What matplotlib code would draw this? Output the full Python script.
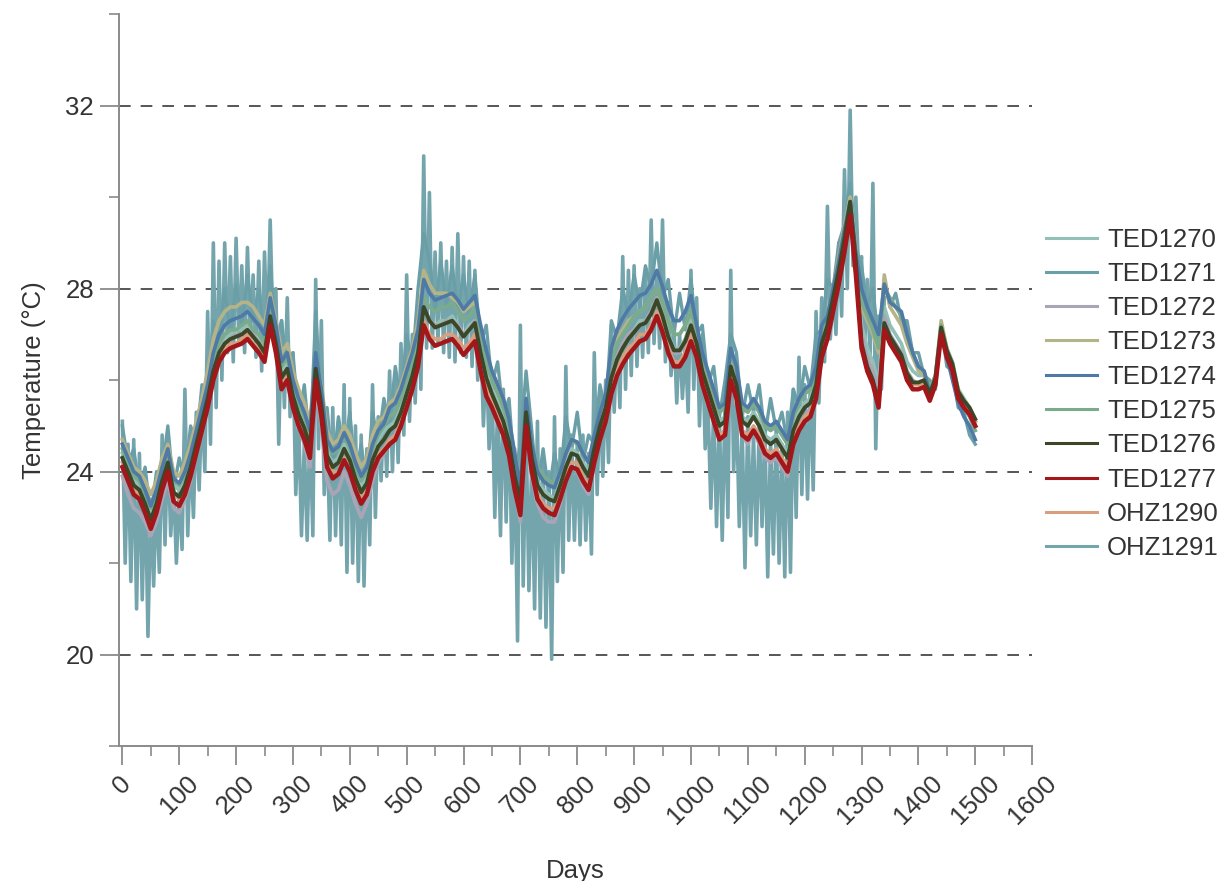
import numpy as np
import matplotlib
matplotlib.use("Agg")
import matplotlib.pyplot as plt
from matplotlib.ticker import MultipleLocator

plt.rcParams['font.family'] = ['Liberation Sans', 'DejaVu Sans']

# common day grid for the smoothed loggers (every 10 days)
days = np.arange(0, 1510, 10)

ted1277 = [24.1, 23.8, 23.5, 23.4, 23.1, 22.75, 23.1, 23.6, 24.0, 23.35,
           23.25, 23.5, 23.9, 24.4, 24.9, 25.4, 26.0, 26.4, 26.6, 26.7,
           26.75, 26.8, 26.9, 26.75, 26.6, 26.4, 27.2, 26.6, 25.8, 26.0,
           25.4, 25.0, 24.7, 24.3, 26.0, 25.2, 24.1, 23.85, 23.95, 24.25,
           24.0, 23.6, 23.3, 23.5, 24.0, 24.3, 24.45, 24.6, 24.7, 25.0,
           25.4, 25.8, 26.3, 27.2, 26.9, 26.75, 26.8, 26.85, 26.9, 26.75,
           26.55, 26.7, 26.85, 26.2, 25.65, 25.4, 25.1, 24.8, 24.35, 23.6,
           23.05, 25.0, 24.0, 23.4, 23.2, 23.1, 23.05, 23.4, 23.8, 24.1,
           24.05, 23.8, 23.6, 24.2, 24.7, 25.1, 25.7, 26.1, 26.35, 26.55,
           26.7, 26.85, 26.9, 27.1, 27.4, 27.05, 26.6, 26.3, 26.3, 26.5,
           26.85, 26.5, 25.9, 25.5, 25.1, 24.7, 24.8, 26.0, 25.6, 24.8,
           24.7, 24.9, 24.7, 24.4, 24.3, 24.4, 24.2, 24.0, 24.6, 24.9,
           25.1, 25.2, 25.6, 26.5, 26.9, 27.5, 28.1, 28.8, 29.6, 28.3,
           26.7, 26.2, 25.9, 25.4, 27.1, 26.8, 26.6, 26.4, 26.0, 25.8,
           25.8, 25.85, 25.55, 25.9, 27.0, 26.5, 26.2, 25.6, 25.4, 25.25,
           25.0]

ted1276 = [24.3, 24.0, 23.7, 23.6, 23.3, 22.95, 23.3, 23.8, 24.2, 23.55,
           23.45, 23.7, 24.1, 24.6, 25.1, 25.6, 26.2, 26.6, 26.8, 26.9,
           26.95, 27.0, 27.1, 26.95, 26.8, 26.6, 27.4, 26.8, 26.05, 26.25,
           25.65, 25.25, 24.95, 24.55, 26.25, 25.45, 24.35, 24.1, 24.2, 24.5,
           24.25, 23.85, 23.55, 23.75, 24.25, 24.55, 24.7, 24.9, 25.0, 25.3,
           25.7, 26.1, 26.6, 27.6, 27.3, 27.15, 27.2, 27.25, 27.3, 27.15,
           26.95, 27.1, 27.25, 26.6, 26.05, 25.7, 25.4, 25.1, 24.65, 23.9,
           23.35, 25.3, 24.3, 23.7, 23.5, 23.4, 23.35, 23.7, 24.1, 24.4,
           24.35, 24.1, 23.9, 24.5, 25.0, 25.4, 26.05, 26.45, 26.7, 26.9,
           27.05, 27.2, 27.25, 27.45, 27.75, 27.4, 26.95, 26.65, 26.65, 26.85,
           27.2, 26.8, 26.2, 25.8, 25.4, 25.0, 25.1, 26.3, 25.9, 25.1,
           25.0, 25.2, 25.0, 24.7, 24.6, 24.7, 24.5, 24.3, 24.9, 25.2,
           25.4, 25.5, 25.9, 26.8, 27.2, 27.8, 28.4, 29.1, 29.9, 28.6,
           26.8, 26.3, 26.0, 25.5, 27.25, 26.95, 26.75, 26.55, 26.15, 25.95,
           25.95, 26.0, 25.7, 26.05, 27.15, 26.65, 26.35, 25.75, 25.55, 25.4,
           25.15]

ted1274 = [24.6, 24.3, 24.0, 23.9, 23.6, 23.25, 23.6, 24.1, 24.5, 23.85,
           23.75, 24.0, 24.4, 24.9, 25.4, 25.9, 26.6, 27.0, 27.2, 27.3,
           27.35, 27.4, 27.5, 27.35, 27.2, 27.0, 27.8, 27.2, 26.4, 26.6,
           26.0, 25.6, 25.3, 24.9, 26.6, 25.8, 24.7, 24.45, 24.55, 24.85,
           24.6, 24.2, 23.9, 24.1, 24.6, 24.9, 25.05, 25.4, 25.5, 25.8,
           26.2, 26.6, 27.1, 28.2, 27.9, 27.75, 27.8, 27.85, 27.9, 27.75,
           27.55, 27.7, 27.85, 27.2, 26.65, 26.2, 25.9, 25.6, 25.15, 24.4,
           23.65, 25.6, 24.6, 24.0, 23.8, 23.7, 23.65, 24.0, 24.4, 24.7,
           24.65, 24.4, 24.2, 24.8, 25.3, 25.7, 26.7, 27.1, 27.35, 27.55,
           27.7, 27.85, 27.9, 28.1, 28.4, 28.05, 27.6, 27.3, 27.3, 27.5,
           27.85, 27.2, 26.6, 26.2, 25.8, 25.4, 25.5, 26.7, 26.3, 25.5,
           25.4, 25.6, 25.4, 25.1, 25.0, 25.1, 24.9, 24.7, 25.3, 25.6,
           25.8, 25.9, 26.3, 27.2, 27.4, 28.0, 28.6, 29.3, 29.9, 28.8,
           28.0, 27.6, 27.3, 27.0, 28.1, 27.7, 27.6, 27.5, 27.0, 26.6,
           26.3, 26.2, 25.7, 26.0, 27.1, 26.5, 26.0, 25.5, 25.2, 25.0,
           24.7]

ted1273 = [24.7, 24.4, 24.1, 24.0, 23.8, 23.5, 23.8, 24.3, 24.6, 24.0,
           23.9, 24.2, 24.6, 25.1, 25.6, 26.2, 26.9, 27.3, 27.5, 27.6,
           27.6, 27.7, 27.7, 27.6, 27.4, 27.2, 27.9, 27.3, 26.6, 26.8,
           26.2, 25.8, 25.5, 25.1, 26.5, 25.9, 24.9, 24.6, 24.7, 25.0,
           24.8, 24.4, 24.1, 24.3, 24.8, 25.1, 25.2, 25.5, 25.6, 25.9,
           26.3, 26.7, 27.3, 28.4, 28.1, 27.9, 27.9, 27.9, 27.8, 27.7,
           27.5, 27.6, 27.7, 27.1, 26.6, 26.2, 25.9, 25.6, 25.1, 24.4,
           23.7, 25.5, 24.6, 24.1, 23.9, 23.8, 23.7, 24.0, 24.4, 24.7,
           24.6, 24.4, 24.2, 24.7, 25.2, 25.6, 26.5, 26.9, 27.1, 27.3,
           27.4, 27.5, 27.6, 27.8, 28.0, 27.7, 27.3, 27.0, 27.0, 27.2,
           27.5, 27.0, 26.4, 26.0, 25.6, 25.3, 25.4, 26.5, 26.1, 25.4,
           25.3, 25.5, 25.3, 25.0, 24.9, 25.0, 24.8, 24.6, 25.2, 25.5,
           25.7, 25.8, 26.2, 27.1, 27.4, 28.0, 28.7, 29.4, 30.0, 28.9,
           27.6, 27.3, 27.0, 26.6, 28.3, 27.6, 27.4, 27.2, 26.8, 26.5,
           26.2, 26.1, 25.8, 26.1, 27.3, 26.7, 26.3, 25.8, 25.5, 25.3,
           25.0]

ted1275 = [24.5, 24.2, 23.9, 23.8, 23.5, 23.2, 23.5, 24.0, 24.4, 23.8,
           23.7, 23.9, 24.3, 24.8, 25.3, 25.8, 26.4, 26.8, 27.0, 27.1,
           27.1, 27.2, 27.3, 27.1, 27.0, 26.8, 27.6, 27.0, 26.3, 26.5,
           25.9, 25.5, 25.2, 24.8, 26.4, 25.7, 24.6, 24.4, 24.5, 24.8,
           24.5, 24.1, 23.8, 24.0, 24.5, 24.8, 25.0, 25.2, 25.3, 25.6,
           26.0, 26.4, 26.9, 27.8, 27.6, 27.5, 27.6, 27.6, 27.7, 27.5,
           27.3, 27.4, 27.6, 27.0, 26.4, 26.0, 25.7, 25.4, 25.0, 24.3,
           23.6, 25.6, 24.6, 24.1, 23.9, 23.8, 23.7, 24.0, 24.4, 24.7,
           24.6, 24.4, 24.2, 24.8, 25.3, 25.7, 26.4, 26.8, 27.0, 27.2,
           27.4, 27.5, 27.6, 27.8, 28.0, 27.7, 27.3, 27.0, 27.0, 27.2,
           27.5, 27.1, 26.5, 26.1, 25.7, 25.3, 25.4, 26.6, 26.2, 25.4,
           25.3, 25.5, 25.3, 25.0, 24.9, 25.0, 24.8, 24.6, 25.2, 25.5,
           25.7, 25.8, 26.2, 27.1, 27.4, 27.9, 28.5, 29.2, 29.9, 28.7,
           27.7, 27.4, 27.1, 26.7, 28.0, 27.8, 27.6, 27.4, 27.0, 26.6,
           26.3, 26.2, 25.8, 26.1, 27.2, 26.6, 26.3, 25.7, 25.4, 25.2,
           24.9]

ted1272 = [23.9, 23.5, 23.2, 23.1, 22.9, 22.6, 22.9, 23.4, 23.8, 23.2,
           23.1, 23.4, 23.8, 24.4, 24.9, 25.5, 26.2, 26.6, 26.8, 26.9,
           27.0, 27.0, 27.1, 27.0, 26.8, 26.6, 27.4, 26.8, 26.0, 26.2,
           25.5, 25.0, 24.6, 24.1, 25.8, 25.0, 23.8, 23.5, 23.6, 24.0,
           23.7, 23.3, 23.0, 23.3, 23.8, 24.2, 24.4, 24.6, 24.8, 25.1,
           25.6, 26.0, 26.6, 27.6, 27.3, 27.2, 27.2, 27.3, 27.3, 27.2,
           27.0, 27.1, 27.3, 26.6, 26.0, 25.6, 25.2, 24.9, 24.4, 23.6,
           22.9, 25.0, 23.9, 23.3, 23.0, 22.9, 22.9, 23.3, 23.8, 24.1,
           24.0, 23.7, 23.5, 24.2, 24.8, 25.3, 26.0, 26.5, 26.8, 27.0,
           27.1, 27.2, 27.3, 27.5, 27.8, 27.4, 26.9, 26.6, 26.6, 26.8,
           27.2, 26.8, 26.1, 25.7, 25.2, 24.8, 24.9, 26.2, 25.7, 24.8,
           24.6, 24.9, 24.6, 24.3, 24.2, 24.3, 24.1, 23.9, 24.6, 25.0,
           25.2, 25.4, 25.8, 26.7, 27.1, 27.7, 28.3, 29.0, 29.8, 28.5,
           27.0, 26.5, 26.2, 25.8, 27.4, 27.0, 26.8, 26.6, 26.2, 26.0,
           25.9, 25.9, 25.6, 26.0, 27.1, 26.6, 26.3, 25.7, 25.5, 25.3,
           25.0]

ted1270 = [24.4, 24.1, 23.8, 23.7, 23.4, 23.1, 23.4, 23.9, 24.3, 23.7,
           23.6, 23.8, 24.2, 24.7, 25.2, 25.7, 26.3, 26.7, 26.9, 27.0,
           27.1, 27.1, 27.2, 27.1, 26.9, 26.7, 27.5, 26.9, 26.2, 26.4,
           25.8, 25.4, 25.1, 24.7, 26.3, 25.5, 24.4, 24.2, 24.3, 24.6,
           24.4, 24.0, 23.7, 23.9, 24.4, 24.7, 24.9, 25.0, 25.1, 25.4,
           25.8, 26.2, 26.7, 27.6, 27.3, 27.2, 27.3, 27.3, 27.4, 27.2,
           27.0, 27.2, 27.3, 26.7, 26.1, 25.8, 25.5, 25.2, 24.8, 24.0,
           23.4, 25.4, 24.4, 23.8, 23.6, 23.5, 23.4, 23.8, 24.2, 24.5,
           24.4, 24.2, 24.0, 24.6, 25.1, 25.5, 26.1, 26.5, 26.8, 27.0,
           27.1, 27.3, 27.3, 27.5, 27.8, 27.5, 27.0, 26.7, 26.7, 26.9,
           27.3, 26.9, 26.3, 25.9, 25.5, 25.1, 25.2, 26.4, 26.0, 25.2,
           25.1, 25.3, 25.1, 24.8, 24.7, 24.8, 24.6, 24.4, 25.0, 25.3,
           25.5, 25.6, 26.0, 26.9, 27.3, 27.9, 28.5, 29.2, 30.0, 28.7,
           27.2, 26.7, 26.4, 25.9, 27.6, 27.2, 27.0, 26.8, 26.4, 26.2,
           26.1, 26.1, 25.8, 26.1, 27.2, 26.7, 26.4, 25.8, 25.6, 25.4,
           25.1]

ohz1290 = [24.2, 23.9, 23.6, 23.5, 23.2, 22.9, 23.2, 23.7, 24.1, 23.5,
           23.4, 23.6, 24.0, 24.5, 25.0, 25.5, 26.1, 26.5, 26.7, 26.8,
           26.8, 26.9, 27.0, 26.8, 26.7, 26.5, 27.3, 26.7, 25.9, 26.1,
           25.5, 25.1, 24.8, 24.4, 26.1, 25.3, 24.2, 24.0, 24.0, 24.3,
           24.1, 23.7, 23.4, 23.6, 24.1, 24.4, 24.5, 24.7, 24.8, 25.1,
           25.5, 25.9, 26.4, 27.3, 27.0, 26.9, 26.9, 27.0, 27.0, 26.9,
           26.7, 26.8, 27.0, 26.3, 25.8, 25.5, 25.2, 24.9, 24.5, 23.7,
           23.2, 25.1, 24.1, 23.5, 23.3, 23.2, 23.2, 23.5, 23.9, 24.2,
           24.2, 23.9, 23.7, 24.3, 24.8, 25.2, 25.8, 26.2, 26.5, 26.7,
           26.8, 27.0, 27.0, 27.2, 27.5, 27.2, 26.7, 26.4, 26.4, 26.6,
           27.0, 26.6, 26.0, 25.6, 25.2, 24.8, 24.9, 26.1, 25.7, 24.9,
           24.8, 25.0, 24.8, 24.5, 24.4, 24.5, 24.3, 24.1, 24.7, 25.0,
           25.2, 25.3, 25.7, 26.6, 27.0, 27.6, 28.2, 28.9, 29.7, 28.4,
           26.8, 26.3, 26.0, 25.5, 27.2, 26.9, 26.7, 26.5, 26.1, 25.9,
           25.9, 25.9, 25.6, 26.0, 27.1, 26.6, 26.3, 25.7, 25.5, 25.3,
           25.1]

ted1271 = [25.0, 24.2, 24.5, 23.6, 24.1, 23.0, 24.0, 24.0, 25.0, 23.6,
           24.3, 23.8, 25.0, 24.6, 25.9, 25.5, 27.3, 26.8, 28.0, 27.0,
           28.1, 27.2, 28.3, 27.3, 28.0, 26.9, 28.5, 26.8, 27.3, 26.2,
           26.6, 25.1, 25.9, 24.5, 27.5, 25.3, 25.4, 24.0, 25.2, 24.4,
           25.3, 23.9, 24.6, 23.7, 25.3, 24.6, 25.6, 25.0, 26.3, 25.5,
           27.0, 26.3, 28.0, 29.2, 28.6, 27.5, 28.6, 27.6, 28.5, 27.5,
           28.3, 27.4, 28.3, 26.8, 27.2, 25.9, 26.4, 25.2, 25.6, 23.9,
           24.6, 26.2, 24.9, 23.6, 24.5, 23.5, 24.4, 23.8, 25.2, 24.5,
           25.3, 24.2, 24.8, 24.6, 25.9, 25.3, 27.3, 26.9, 28.0, 27.4,
           28.3, 27.6, 28.5, 28.0, 29.0, 27.8, 28.2, 27.0, 27.9, 27.1,
           28.2, 27.0, 27.2, 25.9, 26.3, 25.2, 26.0, 27.0, 26.6, 25.2,
           25.9, 25.3, 25.9, 24.8, 25.6, 24.9, 25.3, 24.6, 25.8, 25.4,
           26.3, 25.8, 27.0, 27.1, 28.2, 28.0, 29.0, 29.4, 30.3, 28.9,
           28.5, 27.6, 28.0, 26.8, 28.2, 27.6, 27.9, 27.3, 27.3, 26.6,
           26.6, 26.1, 26.0, 25.8, 27.2, 26.3, 26.2, 25.4, 25.3, 24.8,
           24.6]

# OHZ1291 is the very noisy logger, read every 5 days up to day 1340
days_ohz1291 = np.arange(0, 1345, 5)
ohz1291 = [25.1, 22.0, 24.6, 21.6, 24.7, 21.0, 24.4, 21.2, 24.0, 20.4,
           23.4, 21.5, 23.6, 21.8, 24.8, 22.4, 24.7, 22.6, 23.8, 22.0,
           23.6, 22.3, 25.8, 22.6, 24.5, 23.0, 25.3, 23.6, 25.6, 24.0,
           27.5, 24.6, 29.0, 25.4, 28.6, 26.0, 29.0, 26.6, 28.7, 26.4,
           29.1, 26.8, 28.5, 26.6, 28.9, 26.9, 28.3, 26.5, 28.6, 26.2,
           28.8, 26.8, 29.5, 27.0, 28.0, 24.6, 27.3, 25.4, 27.8, 25.2,
           26.6, 23.5, 25.2, 22.6, 24.6, 22.5, 25.0, 22.6, 28.2, 24.5,
           27.3, 23.5, 24.8, 22.5, 25.4, 22.6, 25.1, 22.4, 25.9, 21.8,
           25.6, 22.0, 25.0, 21.6, 24.8, 21.5, 24.5, 22.4, 25.9, 23.0,
           25.2, 23.8, 25.4, 23.9, 26.2, 24.0, 26.0, 24.2, 26.8, 24.8,
           28.3, 25.1, 27.0, 25.5, 27.6, 25.8, 30.9, 26.7, 30.1, 26.7,
           28.8, 26.8, 29.0, 26.6, 28.6, 26.5, 28.9, 26.4, 29.2, 26.6,
           28.7, 26.5, 28.6, 26.3, 28.4, 26.0, 27.2, 25.0, 26.6, 24.5,
           26.0, 23.0, 25.5, 22.6, 25.8, 22.9, 25.5, 22.0, 24.5, 20.3,
           27.2, 21.5, 25.0, 21.4, 24.3, 21.0, 25.1, 20.8, 24.3, 20.6,
           24.0, 19.9, 25.2, 21.6, 24.5, 21.8, 26.3, 22.5, 24.8, 22.5,
           24.6, 22.4, 24.8, 22.5, 24.4, 22.2, 26.6, 23.5, 25.7, 23.9,
           26.0, 24.2, 27.2, 25.3, 27.0, 25.4, 28.7, 25.8, 28.4, 26.1,
           28.5, 26.3, 28.0, 26.5, 28.4, 26.6, 29.5, 26.8, 28.3, 26.7,
           29.5, 26.4, 27.7, 26.1, 27.2, 25.5, 27.0, 25.6, 26.8, 25.3,
           28.4, 25.8, 27.8, 25.0, 27.0, 24.5, 25.5, 23.2, 25.4, 22.8,
           25.2, 22.5, 25.6, 23.0, 28.4, 24.0, 25.5, 22.8, 25.0, 21.9,
           25.2, 22.6, 24.8, 22.4, 25.0, 22.8, 24.9, 21.7, 24.7, 22.2,
           25.0, 22.0, 24.6, 21.7, 25.3, 21.8, 25.8, 23.0, 26.5, 23.5,
           25.9, 23.4, 26.0, 23.6, 27.5, 25.5, 27.8, 26.4, 29.8, 26.9,
           28.0, 27.0, 29.0, 27.4, 30.6, 28.0, 31.9, 28.5, 30.0, 28.3,
           28.7, 26.6, 28.2, 26.5, 30.3, 24.5, 27.4, 25.8, 27.8]

labels = ["TED1270", "TED1271", "TED1272", "TED1273", "TED1274",
          "TED1275", "TED1276", "TED1277", "OHZ1290", "OHZ1291"]
colors = {"TED1270": "#93c0b6", "TED1271": "#6b9fa8", "TED1272": "#aaa5b6",
          "TED1273": "#b5b388", "TED1274": "#4f7aa6", "TED1275": "#79ab8c",
          "TED1276": "#3b4726", "TED1277": "#a3161a", "OHZ1290": "#d89e80",
          "OHZ1291": "#74a5ad"}
series = {"TED1270": (days, ted1270), "TED1271": (days, ted1271),
          "TED1272": (days, ted1272), "TED1273": (days, ted1273),
          "TED1274": (days, ted1274), "TED1275": (days, ted1275),
          "TED1276": (days, ted1276), "TED1277": (days, ted1277),
          "OHZ1290": (days, ohz1290), "OHZ1291": (days_ohz1291, ohz1291)}
widths = {"OHZ1291": 2.6, "TED1271": 2.4, "TED1276": 2.8, "TED1277": 3.2}

# back to front
draw_order = ["OHZ1291", "TED1271", "TED1270", "TED1272", "TED1273",
              "TED1275", "TED1274", "OHZ1290", "TED1276", "TED1277"]

fig = plt.figure(figsize=(12.2, 8.81), dpi=100)
ax = fig.add_axes([0.0975, 0.153, 0.7485, 0.831])

handles = {}
for name in draw_order:
    x, y = series[name]
    h, = ax.plot(x, y, color=colors[name], lw=widths.get(name, 2.6))
    handles[name] = h

ax.set_xlim(-6, 1600)
ax.set_ylim(18, 34)
ax.xaxis.set_major_locator(MultipleLocator(100))
ax.xaxis.set_minor_locator(MultipleLocator(50))
ax.yaxis.set_major_locator(MultipleLocator(4))
ax.yaxis.set_minor_locator(MultipleLocator(2))

for y in [20, 24, 28, 32]:
    ax.axhline(y, color='#3a3a3a', lw=1.2, ls=(0, (7, 6)), zorder=0)

for s in ['top', 'right']:
    ax.spines[s].set_visible(False)
for s in ['left', 'bottom']:
    ax.spines[s].set_color('#8a8a8a')
    ax.spines[s].set_linewidth(1.4)

ax.tick_params(which='major', direction='out', length=14, width=1.3,
               color='#8a8a8a', labelsize=18.5, labelcolor='#333333', pad=4)
ax.tick_params(which='minor', direction='out', length=7, width=1.2,
               color='#8a8a8a')
plt.setp(ax.get_xticklabels(), rotation=45, ha='center', va='top')

ax.set_xlabel("Days", fontsize=18.5, color='#333333', labelpad=22)
ax.set_ylabel("Temperature (°C)", fontsize=18.5, color='#333333', labelpad=14)

leg = fig.legend([handles[n] for n in labels], labels, loc='center left',
                 bbox_to_anchor=(0.857, 0.553), frameon=False, fontsize=18.5,
                 handlelength=2.0, handletextpad=0.4, labelspacing=0.4,
                 borderpad=0, borderaxespad=0, labelcolor='#333333')
for line in leg.get_lines():
    line.set_linewidth(2.2)

fig.savefig("out.png", dpi=100)
